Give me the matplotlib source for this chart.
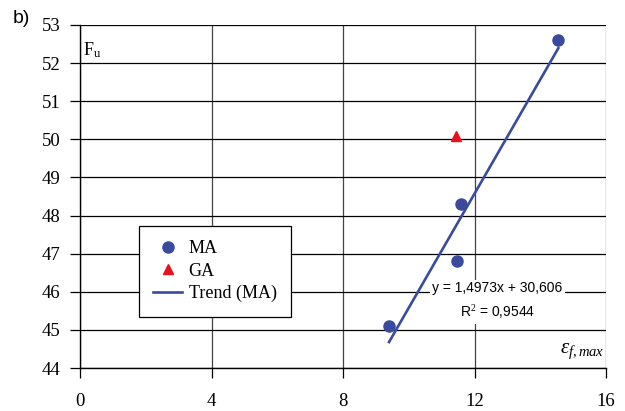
import numpy as np
import matplotlib.pyplot as plt

serif = 'Liberation Serif'
plt.rcParams['font.family'] = serif
plt.rcParams['mathtext.fontset'] = 'custom'
plt.rcParams['mathtext.rm'] = serif
plt.rcParams['mathtext.it'] = serif + ':italic'

# measured data
ma_eps = [9.4, 11.47, 11.58, 14.55]
ma_fu = [45.1, 46.8, 48.3, 52.6]
ga_eps = [11.45]
ga_fu = [50.1]

# linear trend for MA
slope, icpt = 1.4973, 30.606

blue = '#3a4b9f'

fig = plt.figure(figsize=(6.25, 4.11), dpi=100)
ax = fig.add_axes([0.128, 0.1046, 0.8416, 0.8346])

ax.plot(ma_eps, ma_fu, 'o', color=blue, markersize=8, label='MA', zorder=4)
ax.plot(ga_eps, ga_fu, '^', color='#e8101a', markersize=7.5, label='GA', zorder=4)
xt = np.array([min(ma_eps), max(ma_eps)])
ax.plot(xt, slope * xt + icpt, color=blue, linewidth=1.9, label='Trend (MA)', zorder=3)

ax.set_xlim(0, 16)
ax.set_ylim(44, 53)
ax.set_xticks(range(0, 17, 4))
ax.set_yticks(range(44, 54))
ax.grid(True, axis='y', color='black', linewidth=0.9)
ax.grid(True, axis='x', color='#444444', linewidth=0.9)
ax.set_axisbelow(True)
for s in ['top', 'right']:
    ax.spines[s].set_visible(False)
for s in ['left', 'bottom']:
    ax.spines[s].set_linewidth(1.0)
ax.tick_params(direction='out', length=7, width=0.9, labelsize=13.5)
ax.tick_params(axis='y', pad=7)
ax.tick_params(axis='x', pad=11)

ax.text(0.1, 52.35, r'F$_{\rm u}$', fontsize=13, va='center')
ax.text(15.95, 44.45, r'$\varepsilon_{f,max}$', fontsize=15, ha='right', va='center')

ax.text(12.7, 45.75, 'y = 1,4973x + 30,606\n' + r'R$^{2}$ = 0,9544',
        fontfamily='Liberation Sans', fontsize=10, ha='center', va='center',
        linespacing=1.6, zorder=5,
        bbox=dict(facecolor='white', edgecolor='none', pad=1.5))

leg = ax.legend(loc='lower left', bbox_to_anchor=(0.112, 0.149), frameon=True,
                fancybox=False, edgecolor='black', framealpha=1,
                prop={'size': 13}, handlelength=1.6,
                handletextpad=0.35, borderpad=0.8, labelspacing=0.3,
                borderaxespad=0)
leg.get_frame().set_linewidth(0.9)

fig.text(0.02, 0.975, 'b)', fontfamily='Liberation Sans', fontsize=14, va='top')

fig.savefig('out.png', dpi=100)
